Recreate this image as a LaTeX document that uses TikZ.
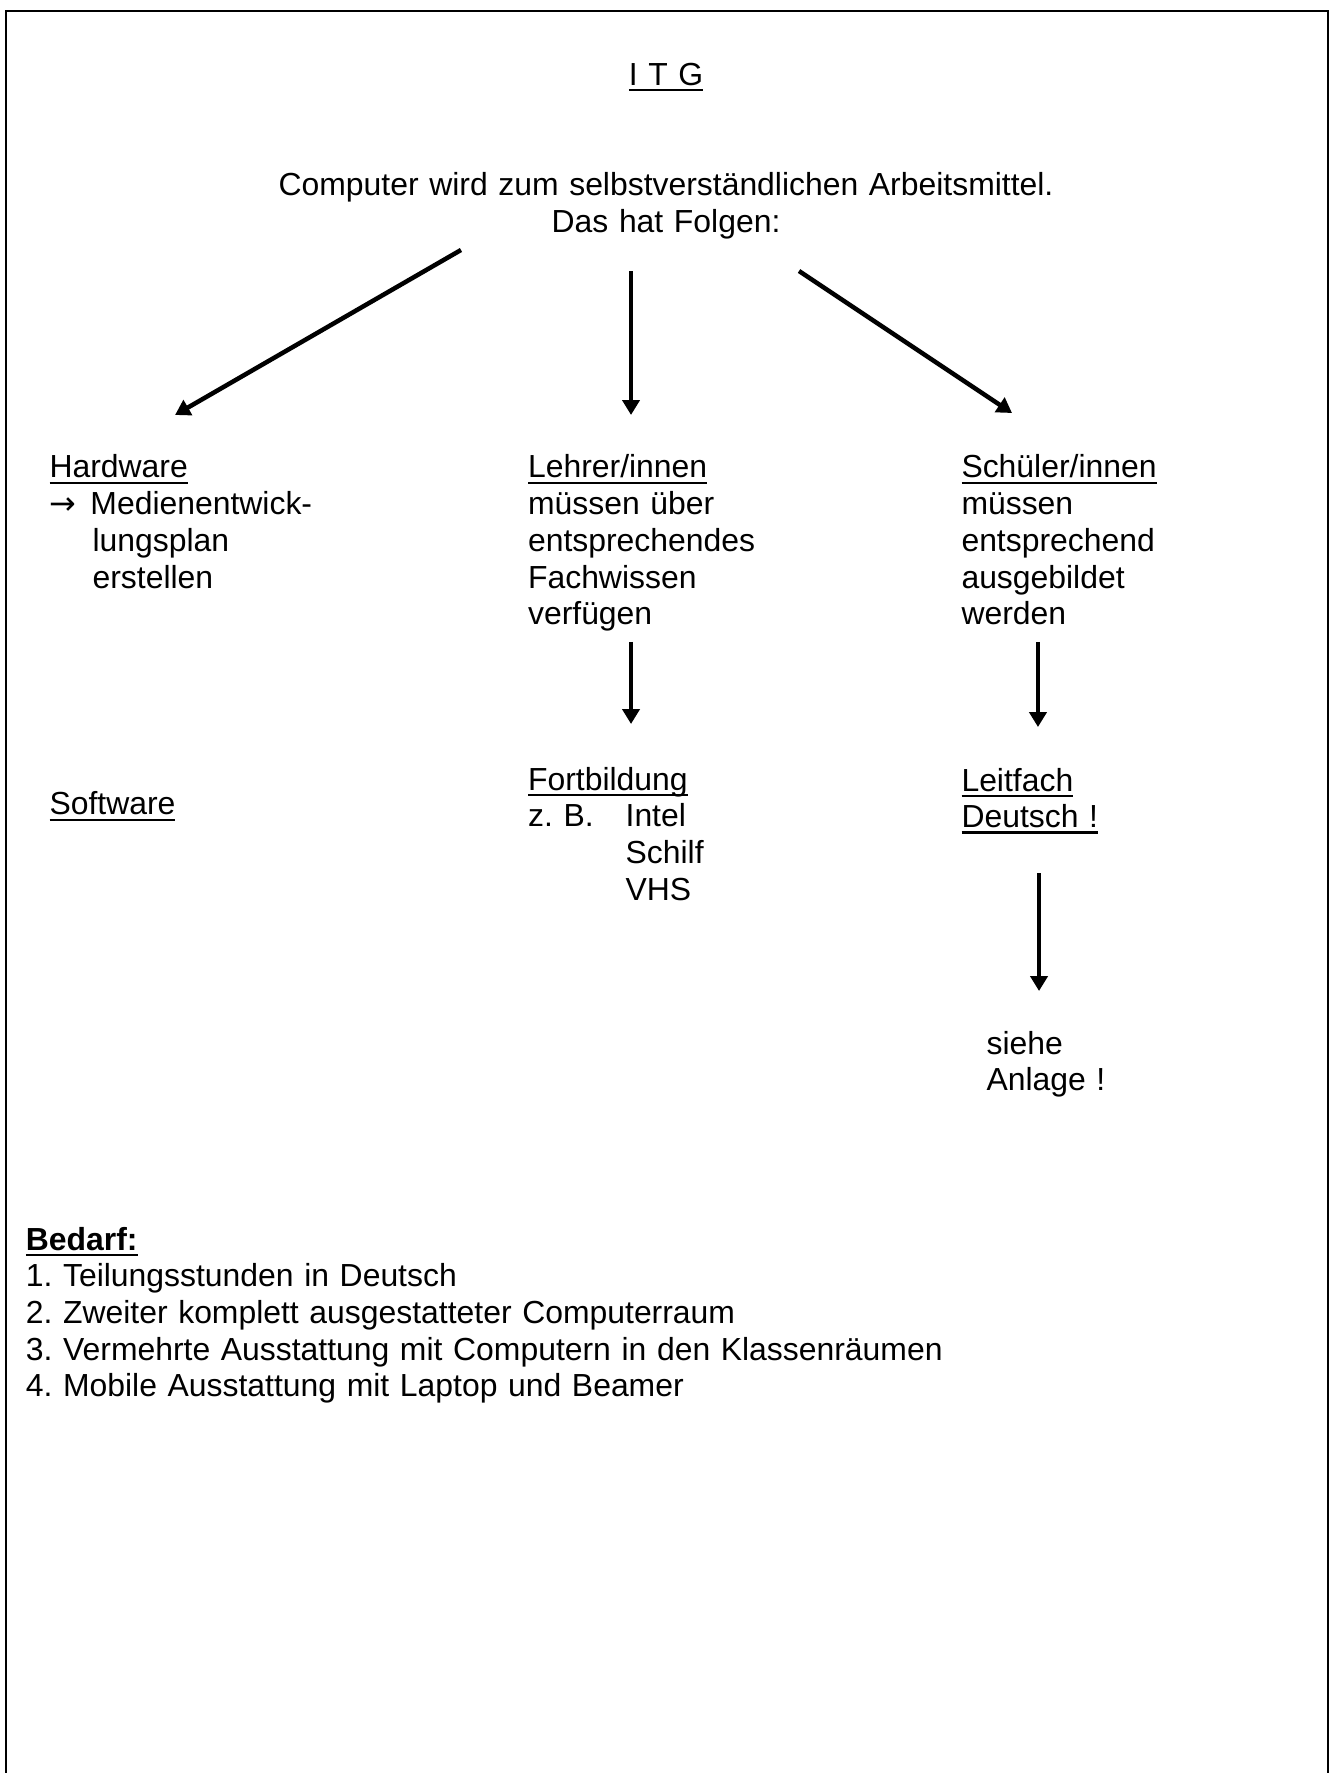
\documentclass[tikz,border=0pt]{standalone}
\usepackage{fontspec}
\setmainfont{Liberation Sans}
\newfontfamily\arrowfont{DejaVu Sans}
\usetikzlibrary{arrows.meta}
\frenchspacing
% underline at a fixed depth below the baseline
\newcommand{\uln}[1]{\leavevmode\setbox0=\hbox{#1}\rlap{\vrule height -1.4pt depth 2.4pt width \wd0}\box0}

\begin{document}
\begin{tikzpicture}[
    txt/.style={inner sep=0pt, text width=6cm, align=left, anchor=base west,
                font=\fontsize{12pt}{13.8pt}\selectfont},
    follow/.style={line width=1.7pt, -{Triangle[width=6.4pt,length=5.6pt]}},
    frame/.style={line width=0.9pt}
]
\useasboundingbox (0,0) rectangle (17.609,-23.439);

% Frame, open at the bottom
\draw[frame] (0.079,-23.439) -- (0.079,-0.145) -- (17.556,-0.145) -- (17.556,-23.439);

% Title
\node[txt, text width=4cm, align=center, anchor=base] (itg) at (8.805,-1.124) {\uln{I T G}};
\node[txt, text width=15cm, align=center, anchor=base] (computer) at (8.805,-2.591)
    {Computer wird zum selbstverständlichen Arbeitsmittel.\\ Das hat Folgen:};

% First row
\node[txt] (hardware) at (0.648,-6.319)
    {\uln{Hardware}\\
     \makebox[15.4pt][l]{\arrowfont →}Medienentwick-\\
     \hspace*{16.2pt}lungsplan\\
     \hspace*{16.2pt}erstellen};
\node[txt] (lehrer) at (6.974,-6.319)
    {\uln{Lehrer/innen}\\ müssen über\\ entsprechendes\\ Fachwissen\\ verfügen};
\node[txt] (schueler) at (12.704,-6.319)
    {\uln{Schüler/innen}\\ müssen\\ entsprechend\\ ausgebildet\\ werden};

% Second row
\node[txt] (software) at (0.648,-10.774) {\uln{Software}};
\node[txt] (fortbildung) at (6.974,-10.444)
    {\uln{Fortbildung}\\
     \makebox[36.7pt][l]{z. B.}Intel\\
     \hspace*{36.7pt}Schilf\\
     \hspace*{36.7pt}VHS};
\node[txt] (leitfach) at (12.704,-10.457) {\uln{Leitfach}\\ \uln{Deutsch !}};
\node[txt] (anlage) at (13.035,-13.934) {siehe\\ Anlage !};

% Needs
\node[txt, text width=16cm] (bedarf) at (0.335,-16.525)
    {\textbf{\uln{Bedarf:}}\\
     1. Teilungsstunden in Deutsch\\
     2. Zweiter komplett ausgestatteter Computerraum\\
     3. Vermehrte Ausstattung mit Computern in den Klassenräumen\\
     4. Mobile Ausstattung mit Laptop und Beamer};

% Arrow ends
\coordinate (leftfrom) at (6.094,-3.305);
\coordinate (leftto) at (2.314,-5.486);
\coordinate (midfrom) at (8.342,-3.583);
\coordinate (midto) at (8.342,-5.486);
\coordinate (rightfrom) at (10.563,-3.583);
\coordinate (rightto) at (13.379,-5.460);
\coordinate (lehrerfrom) at (8.342,-8.487);
\coordinate (lehrerto) at (8.342,-9.571);
\coordinate (schuelerfrom) at (13.722,-8.487);
\coordinate (schuelerto) at (13.722,-9.611);
\coordinate (leitfrom) at (13.736,-11.541);
\coordinate (leitto) at (13.736,-13.101);

\draw[follow] (leftfrom) -- (leftto);
\draw[follow] (midfrom) -- (midto);
\draw[follow] (rightfrom) -- (rightto);
\draw[follow] (lehrerfrom) -- (lehrerto);
\draw[follow] (schuelerfrom) -- (schuelerto);
\draw[follow] (leitfrom) -- (leitto);

\end{tikzpicture}
\end{document}
